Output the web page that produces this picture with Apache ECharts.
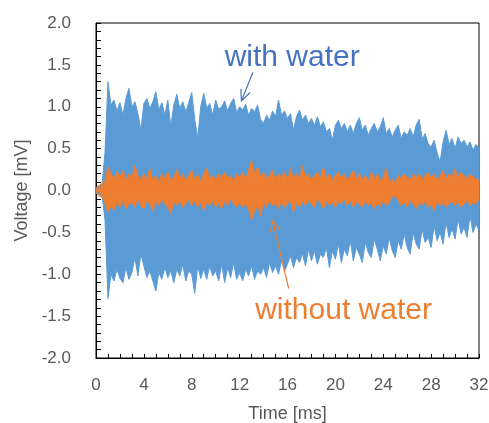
<!DOCTYPE html>
<html><head><meta charset="utf-8">
<script src="https://cdn.jsdelivr.net/npm/echarts@6/dist/echarts.min.js"></script>
<style>html,body{margin:0;padding:0;background:#fff}#c{width:489px;height:423px}</style>
</head><body><div id="c"></div>
<script>
// sampling step of the envelope readings (ms)
const sampleStep = 0.25;
// upper / lower envelopes, 4 readings per ms, t = 0 .. 32
const withWaterUpper = [
 0.02,0.03,0.06,0.45, 1.3,1.02,1.08,0.95, 1.05,0.9,1.1,1.22, 1.0,1.06,0.92,0.72,
 1.04,1.1,0.98,1.06, 1.18,0.96,1.05,0.9, 1.08,0.76,1.02,1.15, 0.98,1.06,0.94,1.05,
 1.17,0.85,0.62,1.0, 1.16,0.98,1.04,0.9, 1.08,0.97,1.0,1.07, 0.95,1.04,1.1,0.93,
 1.0,0.96,1.03,0.9, 0.98,0.94,1.02,0.85, 0.8,0.9,0.84,0.95, 0.88,1.08,0.9,0.95,
 0.86,0.92,0.72,0.88, 0.96,0.84,0.9,0.8, 0.86,0.78,0.88,0.76, 0.82,0.7,0.74,0.6,
 0.78,0.84,0.74,0.8, 0.7,0.78,0.68,0.8, 0.87,0.72,0.78,0.66, 0.74,0.8,0.7,0.76,
 0.87,0.68,0.74,0.64, 0.72,0.78,0.62,0.7, 0.66,0.74,0.64,0.78, 0.85,0.62,0.68,0.56,
 0.52,0.6,0.45,0.34, 0.58,0.72,0.55,0.62, 0.5,0.64,0.56,0.6, 0.52,0.58,0.48,0.55,
 0.5];
const withWaterLower = [
 -0.02,-0.03,-0.05,-0.35, -1.29,-1.0,-1.08,-0.94, -1.05,-1.1,-0.92,-1.06, -0.98,-0.8,-1.02,-0.76,
 -0.9,-1.04,-0.96,-1.08, -1.2,-0.98,-1.06,-0.92, -1.04,-0.96,-1.1,-0.94, -1.02,-0.88,-1.08,-0.96,
 -1.0,-1.23,-0.9,-1.05, -0.94,-1.06,-0.9,-1.02, -0.96,-1.08,-0.88,-1.1, -0.92,-1.04,-0.86,-1.06,
 -0.98,-1.08,-0.94,-1.02, -0.9,-1.06,-0.96,-1.0, -0.92,-1.04,-0.86,-0.98, -0.9,-1.0,-0.84,-0.96,
 -0.88,-0.78,-0.92,-0.8, -0.86,-0.75,-0.9,-0.7, -0.84,-0.72,-0.88,-0.76, -0.8,-0.68,-0.92,-0.72,
 -0.82,-0.64,-0.86,-0.7, -0.78,-0.6,-0.84,-0.68, -0.76,-0.86,-0.62,-0.74, -0.8,-0.58,-0.7,-0.84,
 -0.66,-0.76,-0.56,-0.72, -0.8,-0.6,-0.7,-0.52, -0.68,-0.76,-0.5,-0.64, -0.7,-0.46,-0.62,-0.56,
 -0.68,-0.42,-0.6,-0.5, -0.64,-0.38,-0.56,-0.46, -0.58,-0.34,-0.52,-0.44, -0.56,-0.3,-0.5,-0.4,
 -0.48];
const withoutWaterUpper = [
 0.03,0.06,0.08,0.12, 0.28,0.2,0.14,0.22, 0.16,0.24,0.12,0.2, 0.15,0.3,0.18,0.13,
 0.2,0.14,0.26,0.12, 0.18,0.1,0.2,0.14, 0.22,0.12,0.16,0.25, 0.14,0.2,0.11,0.18,
 0.24,0.13,0.19,0.1, 0.2,0.27,0.14,0.18, 0.12,0.2,0.16,0.22, 0.14,0.18,0.11,0.2,
 0.15,0.22,0.13,0.24, 0.36,0.2,0.28,0.16, 0.22,0.14,0.18,0.24, 0.13,0.2,0.16,0.22,
 0.12,0.26,0.15,0.2, 0.13,0.3,0.16,0.2, 0.12,0.18,0.22,0.14, 0.28,0.15,0.2,0.12,
 0.18,0.22,0.14,0.2, 0.12,0.18,0.24,0.14, 0.2,0.13,0.18,0.1, 0.22,0.14,0.2,0.12,
 0.16,0.26,0.1,0.14, 0.08,0.18,0.14,0.2, 0.16,0.12,0.2,0.15, 0.2,0.13,0.18,0.22,
 0.14,0.2,0.12,0.17, 0.24,0.14,0.2,0.16, 0.26,0.15,0.22,0.18, 0.13,0.2,0.16,0.14,
 0.12];
const withoutWaterLower = [
 -0.03,-0.06,-0.08,-0.15, -0.26,-0.18,-0.24,-0.14, -0.2,-0.12,-0.22,-0.16, -0.14,-0.2,-0.1,-0.18,
 -0.22,-0.12,-0.16,-0.24, -0.12,-0.18,-0.1,-0.16, -0.2,-0.27,-0.14,-0.18, -0.12,-0.2,-0.16,-0.1,
 -0.18,-0.12,-0.2,-0.14, -0.24,-0.14,-0.18,-0.12, -0.2,-0.15,-0.22,-0.12, -0.18,-0.1,-0.16,-0.2,
 -0.14,-0.2,-0.16,-0.22, -0.35,-0.24,-0.18,-0.3, -0.14,-0.2,-0.12,-0.18, -0.15,-0.22,-0.13,-0.2,
 -0.16,-0.12,-0.26,-0.14, -0.2,-0.13,-0.18,-0.12, -0.16,-0.2,-0.1,-0.14, -0.22,-0.12,-0.18,-0.14,
 -0.2,-0.13,-0.16,-0.1, -0.18,-0.12,-0.2,-0.14, -0.16,-0.2,-0.12,-0.18, -0.14,-0.22,-0.15,-0.19,
 -0.12,-0.18,-0.14,-0.08, -0.06,-0.12,-0.18,-0.14, -0.2,-0.12,-0.16,-0.22, -0.14,-0.18,-0.12,-0.2,
 -0.16,-0.24,-0.13,-0.18, -0.14,-0.2,-0.16,-0.12, -0.18,-0.14,-0.2,-0.16, -0.12,-0.18,-0.14,-0.16,
 -0.1];
const xTicks = [0,4,8,12,16,20,24,28,32];
const yTicks = [-2.0,-1.5,-1.0,-0.5,0.0,0.5,1.0,1.5,2.0];
const labelWith = 'with water';
const labelWithout = 'without water';
// annotation anchors in data units [time, voltage]
const arrowWith = [[13.1, 1.41], [12.15, 1.07]];
const arrowWithout = [[16.1, -1.17], [14.75, -0.36]];
const textWithPos = [10.75, 1.58];
const textWithoutPos = [13.3, -1.44];

const BLUE = '#5B9BD5', ORANGE = '#ED7D31';
const FONT = 'Liberation Sans';
const pairs = arr => arr.map((v, i) => [i * sampleStep, v]);

const chart = echarts.init(document.getElementById('c'), null, {renderer: 'canvas'});
// areas overlap slightly across zero so no antialiasing seam shows
const mkSeries = (data, color, name, origin) => ({
  type: 'line', name, data: pairs(data), symbol: 'none', sampling: 'none',
  lineStyle: {color, width: 1}, areaStyle: {color, opacity: 1, origin},
  itemStyle: {color}, animation: false, z: 2
});
chart.setOption({
  animation: false,
  textStyle: {fontFamily: FONT},
  grid: {left: 96, right: 10, top: 23, bottom: 65, show: true, borderColor: '#000', borderWidth: 1,
         containLabel: false, outerBoundsMode: 'none'},
  xAxis: {
    type: 'value', min: xTicks[0], max: xTicks[xTicks.length - 1], interval: 4,
    name: 'Time [ms]', nameLocation: 'middle', nameGap: 47,
    nameTextStyle: {color: '#595959', fontSize: 18, fontFamily: FONT},
    axisLine: {onZero: false, lineStyle: {color: '#000', width: 1}},
    axisTick: {show: true, inside: true, length: 4, lineStyle: {color: '#000'}},
    minorTick: {show: true, splitNumber: 4, length: 4, lineStyle: {color: '#000'}},
    splitLine: {show: false},
    axisLabel: {color: '#595959', fontSize: 17, margin: 19, formatter: v => xTicks.includes(v) ? String(v) : ''}
  },
  yAxis: {
    type: 'value', min: yTicks[0], max: yTicks[yTicks.length - 1], interval: 0.5,
    name: 'Voltage [mV]', nameLocation: 'middle', nameGap: 63, nameRotate: 90,
    nameTextStyle: {color: '#595959', fontSize: 18, fontFamily: FONT},
    axisLine: {onZero: false, lineStyle: {color: '#000', width: 1}},
    axisTick: {show: true, inside: true, length: 5, lineStyle: {color: '#000'}},
    minorTick: {show: true, splitNumber: 5, length: 5, lineStyle: {color: '#000'}},
    splitLine: {show: false},
    axisLabel: {color: '#595959', fontSize: 17, margin: 25, formatter: v => v.toFixed(1)}
  },
  series: [
    mkSeries(withWaterUpper, BLUE, 'with water +', -0.02),
    mkSeries(withWaterLower, BLUE, 'with water -', 0.02),
    mkSeries(withoutWaterUpper, ORANGE, 'without water +', -0.02),
    mkSeries(withoutWaterLower, ORANGE, 'without water -', 0.02)
  ]
});

function arrowGraphic(pts, color) {
  const a = chart.convertToPixel({gridIndex: 0}, pts[0]);
  const b = chart.convertToPixel({gridIndex: 0}, pts[1]);
  const ang = Math.atan2(b[1] - a[1], b[0] - a[0]);
  const L = 12, spread = 0.42;
  const h1 = [b[0] - L * Math.cos(ang - spread), b[1] - L * Math.sin(ang - spread)];
  const h2 = [b[0] - L * Math.cos(ang + spread), b[1] - L * Math.sin(ang + spread)];
  return [
    {type: 'line', shape: {x1: a[0], y1: a[1], x2: b[0], y2: b[1]}, style: {stroke: color, lineWidth: 1.2}, z: 10},
    {type: 'polyline', shape: {points: [h1, b, h2]}, style: {stroke: color, lineWidth: 1.2, fill: null}, z: 10}
  ];
}
const tw = chart.convertToPixel({gridIndex: 0}, textWithPos);
const two = chart.convertToPixel({gridIndex: 0}, textWithoutPos);
chart.setOption({
  graphic: [
    ...arrowGraphic(arrowWith, '#4472C4'),
    ...arrowGraphic(arrowWithout, ORANGE),
    {type: 'text', x: tw[0], y: tw[1], z: 10, style: {text: labelWith, fill: '#4472C4', font: '30px "' + FONT + '"', textAlign: 'left', textVerticalAlign: 'middle'}},
    {type: 'text', x: two[0], y: two[1], z: 10, style: {text: labelWithout, fill: ORANGE, font: '30px "' + FONT + '"', textAlign: 'left', textVerticalAlign: 'middle'}}
  ]
});
</script>
</body></html>
